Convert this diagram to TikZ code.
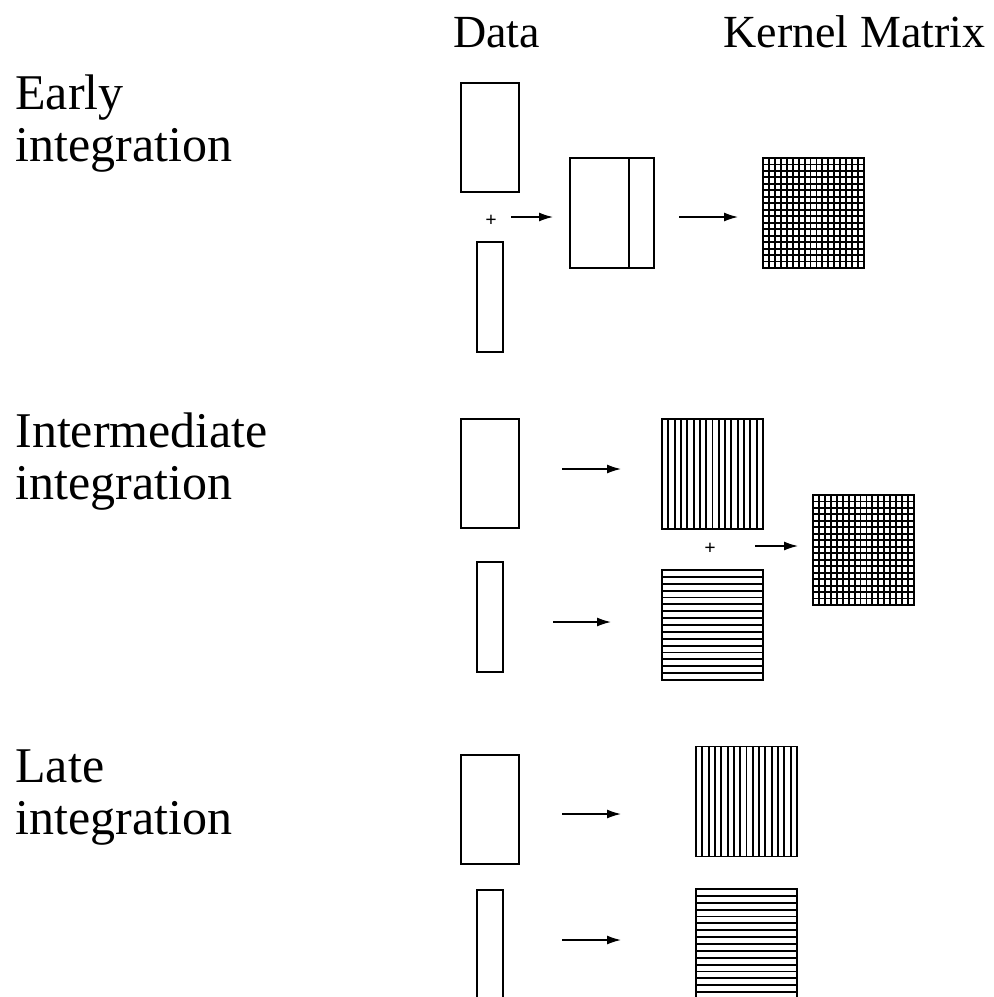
\documentclass[tikz,border=0pt]{standalone}
\usepackage{fontspec}
\setmainfont{Liberation Serif}
\usetikzlibrary{calc,arrows.meta}
\begin{document}
\begin{tikzpicture}[x=0.5pt,y=-0.5pt,
  rbox/.style={draw,line width=0.65pt,inner sep=0pt,outer sep=0pt},
  datab/.style={rbox,minimum width=29pt,minimum height=54.5pt},
  narrowb/.style={rbox,minimum width=13pt,minimum height=55pt},
  concatb/.style={rbox,minimum width=42pt,minimum height=55pt},
  kbox/.style={rbox,minimum width=50.5pt,minimum height=55pt},
  stripe/.style={line width=0.95pt},
  arr/.style={line width=0.7pt,-{Latex[length=7pt,width=4.5pt]}},
  plus/.style={inner sep=0pt,font=\fontsize{10}{10}\selectfont\bfseries},
  lab/.style={inner sep=0pt,anchor=north west,align=left,font=\fontsize{25}{26}\selectfont},
  head/.style={inner sep=0pt,anchor=base,font=\fontsize{23}{24}\selectfont}
]
\useasboundingbox (0,0) rectangle (993,997);
\clip (0,0) rectangle (993,997);

% headers
\node[head] (hdata) at (496.5,47) {Data};
\node[head] (hkern) at (854.5,47) {Kernel Matrix};

% row labels
\node[lab] (learly) at (15,74) {Early\\integration};
\node[lab] (linter) at (15,412) {Intermediate\\integration};
\node[lab] (llate) at (15,749) {Late\\integration};

% ---- Early integration
\node[datab] (d1) at (490,137.5) {};
\node[narrowb] (n1) at (490,297) {};
\node[plus] (p1) at (491,221) {+};
\node[concatb] (c1) at (612,213) {};
\draw[line width=0.65pt] ($(c1.north west)+(59,0)$) coordinate (c1d) -- (c1d |- c1.south);
\node[kbox] (k1) at (813.5,213) {};
\coordinate (a1s) at (511,217); \coordinate (a1e) at (553,217);
\coordinate (a2s) at (679,217); \coordinate (a2e) at (738,217);
\draw[arr] (a1s) -- (a1e);
\draw[arr] (a2s) -- (a2e);

% ---- Intermediate integration
\node[datab] (d2) at (490,473.5) {};
\node[narrowb] (n2) at (490,617) {};
\node[kbox] (v2) at (712.5,474) {};
\node[kbox] (h2) at (712.5,625) {};
\node[plus] (p2) at (710,549) {+};
\node[kbox] (k2) at (863.5,550) {};
\coordinate (b1s) at (562,469); \coordinate (b1e) at (621,469);
\coordinate (b2s) at (553,622); \coordinate (b2e) at (611,622);
\coordinate (b3s) at (755,546); \coordinate (b3e) at (798,546);
\draw[arr] (b1s) -- (b1e);
\draw[arr] (b2s) -- (b2e);
\draw[arr] (b3s) -- (b3e);

% ---- Late integration
\node[datab] (d3) at (490,809.5) {};
\node[narrowb] (n3) at (490,945) {};
\node[kbox] (v3) at (746.5,801.5) {};
\node[kbox] (h3) at (746.5,944) {};
\coordinate (e1s) at (562,814); \coordinate (e1e) at (621,814);
\coordinate (e2s) at (562,940); \coordinate (e2e) at (621,940);
\draw[arr] (e1s) -- (e1e);
\draw[arr] (e2s) -- (e2e);

% stripes
\foreach \n in {v2,v3} {
  \foreach \i in {1,...,15} {
    \pgfmathsetmacro{\f}{\i/16}
    \draw[stripe] ($(\n.north west)!\f!(\n.north east)$) -- ($(\n.south west)!\f!(\n.south east)$);
  }
}
\foreach \n in {h2,h3} {
  \foreach \i in {1,...,15} {
    \pgfmathsetmacro{\f}{\i/16}
    \draw[stripe] ($(\n.north west)!\f!(\n.south west)$) -- ($(\n.north east)!\f!(\n.south east)$);
  }
}
\foreach \n in {k1,k2} {
  \foreach \i in {1,...,16} {
    \pgfmathsetmacro{\f}{\i/17}
    \draw[stripe] ($(\n.north west)!\f!(\n.north east)$) -- ($(\n.south west)!\f!(\n.south east)$);
    \draw[stripe] ($(\n.north west)!\f!(\n.south west)$) -- ($(\n.north east)!\f!(\n.south east)$);
  }
}
\end{tikzpicture}
\end{document}
